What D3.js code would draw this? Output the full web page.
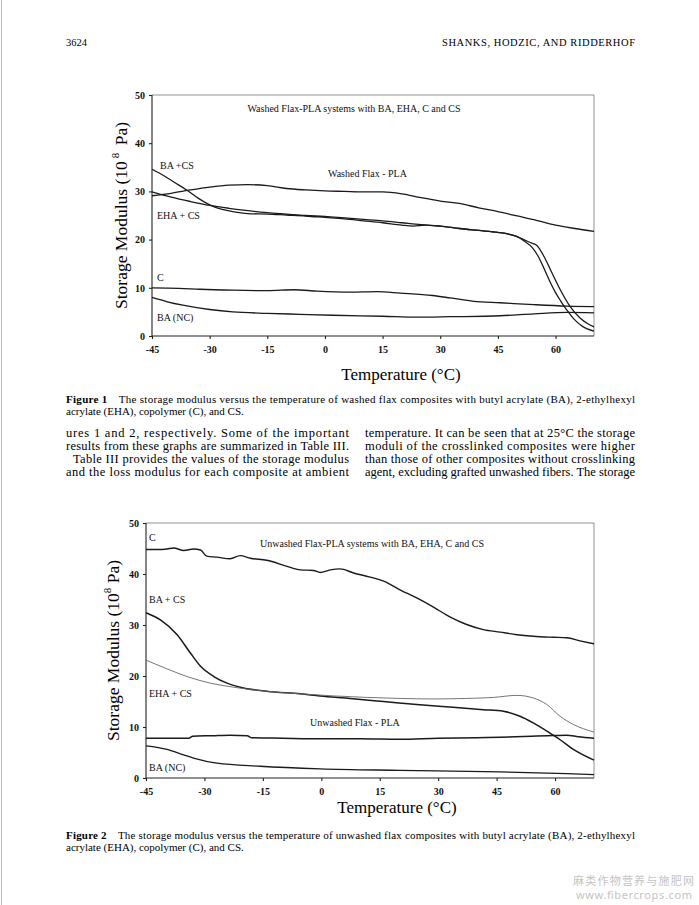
<!DOCTYPE html>
<html>
<head>
<meta charset="utf-8">
<script src="https://cdn.jsdelivr.net/npm/d3@7"></script>
<style>
  html, body { margin: 0; padding: 0; background: #fff; }
  svg { display: block; }
</style>
</head>
<body>
<script>
// ticks
const xTicks = [-45, -30, -15, 0, 15, 30, 45, 60]
const yTicks = [0, 10, 20, 30, 40, 50]

// Figure 1 - washed flax, [temperature, storage modulus]
const f1Washed = [[-45,29.1],[-40,29.6],[-35,30.3],[-30,30.9],[-25,31.3],[-20,31.4],[-15,31.2],[-10,30.6],[-5,30.3],[0,30.1],[5,30.0],[10,29.9],[15,29.9],[20,29.5],[25,28.7],[30,28.0],[35,27.5],[40,26.6],[45,25.8],[50,24.9],[55,24.0],[60,23.0],[65,22.3],[70,21.7]]
const f1BACS = [[-45,34.6],[-42,33.3],[-39,31.8],[-36,30.3],[-33,28.6],[-30,27.2],[-27,26.3],[-24,25.8],[-20,25.4],[-15,25.3],[-10,25.1],[-5,24.9],[0,24.6],[5,24.3],[10,23.9],[15,23.5],[20,23.0],[23,22.8],[26,23.0],[30,22.8],[35,22.3],[40,21.9],[45,21.5],[48,21.1],[50,20.6],[52,19.9],[54,19.2],[55,18.9],[57,16.5],[58.7,13.7],[61.3,9.5],[63.8,6.1],[66.3,3.8],[68.5,2.5],[70,1.9]]
const f1EHACS = [[-45,29.9],[-40,28.8],[-35,27.9],[-30,27.1],[-25,26.5],[-20,26.0],[-15,25.6],[-10,25.3],[-5,25.0],[0,24.8],[5,24.5],[10,24.2],[15,23.9],[20,23.5],[25,23.1],[30,22.8],[35,22.3],[40,21.9],[45,21.5],[48,21.1],[50,20.6],[52,19.6],[54,18.3],[55.5,16.5],[57,14.0],[58.7,11.0],[60,9.0],[61.3,7.3],[63,5.3],[64.8,3.5],[67,2.0],[70,1.0]]
const f1C = [[-45,10.0],[-38,9.9],[-32.6,9.7],[-24,9.5],[-15,9.4],[-8,9.6],[-2,9.3],[6.5,9.1],[13.5,9.2],[19.6,8.9],[28,8.4],[32.6,7.9],[38.7,7.2],[45.6,6.9],[54.4,6.5],[63,6.2],[70,6.1]]
const f1BANC = [[-45,8.0],[-41,7.1],[-37,6.4],[-30,5.5],[-24,5.0],[-15,4.7],[-6.5,4.5],[2,4.3],[15,4.1],[24,3.9],[32.6,4.0],[45.6,4.2],[54.4,4.6],[63,4.9],[70,4.8]]

// Figure 2 - unwashed flax
const f2C = [[-45,44.8],[-42,44.8],[-39.6,44.9],[-37.9,45.1],[-35.3,44.6],[-32.8,44.9],[-31,44.7],[-29.4,43.5],[-26.8,43.3],[-23.4,43.0],[-20.8,43.6],[-18.2,43.1],[-14,42.7],[-8.8,41.5],[-5.4,40.8],[-2,40.7],[-0.3,40.3],[2.3,40.8],[4.8,41.0],[8.3,40.2],[12.5,39.4],[16,38.6],[20.2,36.9],[24.5,35.3],[28.8,33.5],[33,31.6],[37.3,30.1],[41.6,29.1],[45.9,28.6],[50.2,28.1],[54.4,27.8],[59.6,27.6],[63,27.5],[66.4,26.9],[70,26.3]]
const f2BACS = [[-45,32.4],[-41.3,31.0],[-37,28.1],[-33.6,24.5],[-31,21.9],[-27.6,19.9],[-24.2,18.6],[-20.8,17.8],[-14,17.0],[-5.4,16.5],[-0.3,16.1],[7.4,15.6],[16,15.0],[24.5,14.4],[33,13.9],[41.6,13.4],[46.7,13.1],[51,12.1],[54.4,10.8],[58.7,8.8],[61.3,7.5],[64.7,5.6],[70,3.5]]
const f2EHACS = [[-45,23.1],[-39.6,21.4],[-34.5,19.9],[-28.5,18.6],[-22.5,17.8],[-14,17.0],[-5.4,16.5],[3.1,16.1],[11.7,15.8],[20.2,15.6],[28.8,15.5],[37.3,15.6],[44.2,15.8],[50.2,16.2],[54.4,15.7],[57.9,14.4],[61.3,12.1],[64.7,10.5],[70,9.0]]
const f2Unwashed = [[-45,7.8],[-40,7.8],[-34,7.8],[-33,8.2],[-28,8.3],[-23.4,8.4],[-19,8.3],[-18,7.9],[-10,7.8],[0,7.7],[10,7.7],[20,7.6],[30,7.8],[40,7.9],[46,8.0],[54,8.2],[58,8.3],[63,8.4],[66,8.1],[70,7.8]]
const f2BANC = [[-45,6.3],[-39.6,5.6],[-36,4.7],[-32.8,3.9],[-26.8,2.9],[-15.7,2.3],[-0.3,1.8],[20.2,1.5],[45.9,1.2],[63,0.85],[70,0.65]]

const serif = '"Liberation Serif", "Times New Roman", serif'
const W = 699, H = 905

const svg = d3.select('body')
    .append('svg')
    .attr('width', W)
    .attr('height', H)
    .attr('font-family', serif)

svg.append('rect').attr('width', W).attr('height', H).attr('fill', '#fff')

// faint scan edge
svg.append('line')
    .attr('x1', 1.5).attr('x2', 1.5).attr('y1', 0).attr('y2', H)
    .attr('stroke', '#bbb').attr('stroke-width', 1)

// running head
svg.append('text').attr('x', 66).attr('y', 46).attr('font-size', 10.5).text('3624')
svg.append('text').attr('x', 442).attr('y', 46).attr('font-size', 10.5)
    .attr('textLength', 193).attr('lengthAdjust', 'spacing')
    .text('SHANKS, HODZIC, AND RIDDERHOF')

function drawChart(opt) {
    const x = d3.scaleLinear().domain([-45, 70]).range([opt.left, opt.right])
    const y = d3.scaleLinear().domain([0, 50]).range([opt.bottom, opt.top])
    const g = svg.append('g')

    // top + right frame
    g.append('path')
        .attr('d', `M${opt.left},${opt.top}H${opt.right}V${opt.bottom}`)
        .attr('fill', 'none').attr('stroke', '#777').attr('stroke-width', 0.8)

    const xAxis = d3.axisBottom(x).tickValues(xTicks).tickSize(3).tickPadding(7)
        .tickFormat(d => String(d))
    const yAxis = d3.axisLeft(y).tickValues(yTicks).tickSize(3).tickPadding(4)
        .tickFormat(d => String(d))

    g.append('g')
        .attr('transform', `translate(0, ${opt.bottom})`)
        .call(xAxis)
        .call(a => a.select('.domain').attr('d', `M${opt.left},0H${opt.right}`))
    g.append('g')
        .attr('transform', `translate(${opt.left}, 0)`)
        .call(yAxis)
        .call(a => a.select('.domain').attr('d', `M0,${opt.bottom}V${opt.top}`))

    g.selectAll('.tick text')
        .attr('font-family', serif)
        .attr('font-size', 10)
        .attr('font-weight', 'bold')
        .attr('fill', '#111')
    g.selectAll('.domain, .tick line').attr('stroke', '#222').attr('stroke-width', 1.1)

    // axis titles
    g.append('text')
        .attr('x', opt.xTitleX).attr('y', opt.xTitleY)
        .attr('text-anchor', 'middle').attr('font-size', 17)
        .text('Temperature (\u00B0C)')

    const yl = g.append('text')
        .attr('transform', `translate(${opt.yTitleX}, ${(opt.top + opt.bottom) / 2}) rotate(-90)`)
        .attr('text-anchor', 'middle').attr('font-size', 17.5)
    yl.append('tspan').text('Storage Modulus (10')
    yl.append('tspan').attr('font-size', 11).attr('dy', -8).attr('dx', opt.supGap).text('8')
    yl.append('tspan').attr('dy', 8).attr('dx', opt.supGap).text(' Pa)')

    const line = d3.line()
        .x(d => x(d[0]))
        .y(d => y(d[1]))
        .curve(d3.curveMonotoneX)

    opt.series.forEach(s => {
        g.append('path')
            .datum(s.data)
            .attr('d', line)
            .attr('fill', 'none')
            .attr('stroke', s.color || '#1a1a1a')
            .attr('stroke-width', s.width || 1.3)
            .attr('stroke-linejoin', 'round')
    })

    opt.labels.forEach(l => {
        g.append('text')
            .attr('x', l.x).attr('y', l.y)
            .attr('font-size', 10)
            .attr('text-anchor', l.anchor || 'start')
            .attr('fill', '#111')
            .text(l.text)
    })
}

drawChart({
    left: 152, right: 594, top: 95, bottom: 336,
    xTitleX: 401, xTitleY: 380, yTitleX: 127, supGap: 3,
    series: [
        { data: f1Washed },
        { data: f1BACS },
        { data: f1EHACS },
        { data: f1C },
        { data: f1BANC }
    ],
    labels: [
        { x: 354, y: 111.5, text: 'Washed Flax-PLA systems with BA, EHA, C and CS', anchor: 'middle' },
        { x: 160, y: 168.5, text: 'BA +CS' },
        { x: 328, y: 176.5, text: 'Washed Flax - PLA' },
        { x: 157, y: 218.5, text: 'EHA + CS' },
        { x: 157, y: 280.5, text: 'C' },
        { x: 157, y: 320.5, text: 'BA (NC)' }
    ]
})

drawChart({
    left: 146, right: 594, top: 523, bottom: 778,
    xTitleX: 397, xTitleY: 813, yTitleX: 119, supGap: 0,
    series: [
        { data: f2C, width: 1.4 },
        { data: f2BACS, width: 1.5 },
        { data: f2EHACS, width: 0.9, color: '#666' },
        { data: f2Unwashed, width: 1.5 },
        { data: f2BANC, width: 1.3 }
    ],
    labels: [
        { x: 149, y: 540.5, text: 'C' },
        { x: 372, y: 546.5, text: 'Unwashed Flax-PLA systems with BA, EHA, C and CS', anchor: 'middle' },
        { x: 149, y: 602.5, text: 'BA + CS' },
        { x: 149, y: 696.5, text: 'EHA + CS' },
        { x: 310, y: 725.5, text: 'Unwashed Flax - PLA' },
        { x: 149, y: 770.5, text: 'BA (NC)' }
    ]
})

// captions
function caption(num, rest1, line2, y1, y2) {
    const t = svg.append('text').attr('x', 66).attr('y', y1).attr('font-size', 11)
        .attr('textLength', 569).attr('lengthAdjust', 'spacing')
    t.append('tspan').attr('font-weight', 'bold').text('Figure ' + num)
    t.append('tspan').text('\u2003' + rest1)
    svg.append('text').attr('x', 66).attr('y', y2).attr('font-size', 11).text(line2)
}
caption(1, 'The storage modulus versus the temperature of washed flax composites with butyl acrylate (BA), 2-ethylhexyl',
    'acrylate (EHA), copolymer (C), and CS.', 403, 415)
caption(2, 'The storage modulus versus the temperature of unwashed flax composites with butyl acrylate (BA), 2-ethylhexyl',
    'acrylate (EHA), copolymer (C), and CS.', 839, 851)

// body text, two justified columns
const leftCol = [
    'ures 1 and 2, respectively. Some of the important',
    'results from these graphs are summarized in Table III.',
    'Table III provides the values of the storage modulus',
    'and the loss modulus for each composite at ambient'
]
const rightCol = [
    'temperature. It can be seen that at 25\u00B0C the storage',
    'moduli of the crosslinked composites were higher',
    'than those of other composites without crosslinking',
    'agent, excluding grafted unwashed fibers. The storage'
]
const bodyY = [437, 450, 463, 476]
leftCol.forEach((s, i) => {
    svg.append('text').attr('x', i === 2 ? 73 : 66).attr('y', bodyY[i]).attr('font-size', 12.5)
        .attr('textLength', i === 2 ? 276 : 283).attr('lengthAdjust', 'spacing').text(s)
})
rightCol.forEach((s, i) => {
    svg.append('text').attr('x', 365).attr('y', bodyY[i]).attr('font-size', 12.5)
        .attr('textLength', 270).attr('lengthAdjust', 'spacing').text(s)
})

// watermark
svg.append('text').attr('x', 573).attr('y', 885)
    .attr('font-family', '"Noto Sans CJK SC", sans-serif').attr('font-size', 11)
    .attr('textLength', 121).attr('fill', '#c4c4c4')
    .text('麻类作物营养与施肥网')
svg.append('text').attr('x', 576).attr('y', 899)
    .attr('font-family', '"Noto Sans", sans-serif').attr('font-size', 11)
    .attr('textLength', 116).attr('fill', '#c4c4c4')
    .text('www.fibercrops.com')
</script>
</body>
</html>
